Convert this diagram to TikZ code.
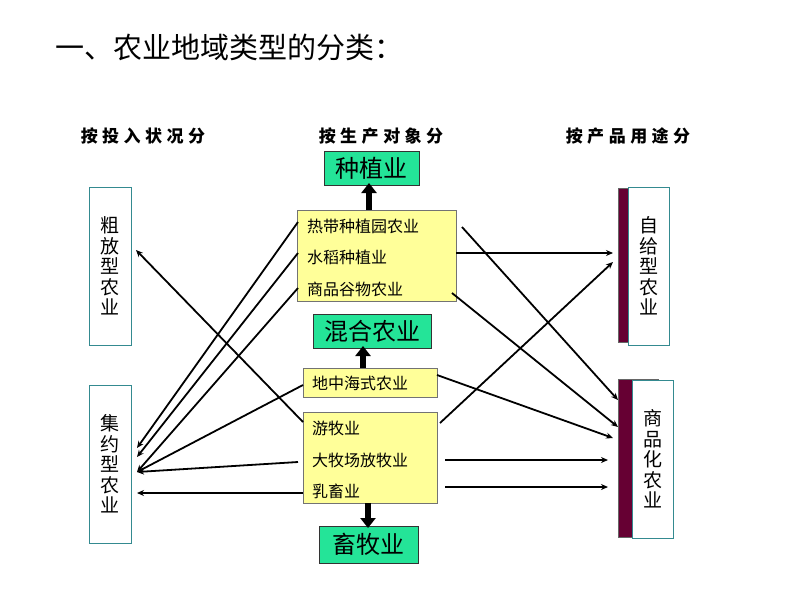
\documentclass[tikz,border=0pt]{standalone}
\usepackage{fontspec}
\setmainfont{Noto Sans CJK SC}
\usetikzlibrary{arrows.meta}
\definecolor{boxgreen}{RGB}{36,228,152}
\definecolor{boxyellow}{RGB}{255,255,153}
\definecolor{maroonc}{RGB}{102,0,51}
\definecolor{tealc}{RGB}{52,138,144}
\tikzset{
  every node/.style={inner sep=0pt, outer sep=0pt},
  greenbox/.style={draw=black!80, line width=0.8pt, fill=boxgreen, font=\fontsize{24}{24}\selectfont},
  yellowbox/.style={draw=black!55, line width=0.8pt, fill=boxyellow},
  ytext/.style={anchor=west, font=\fontsize{16}{16}\selectfont},
  vbox/.style={draw=tealc, line width=1pt, fill=white, minimum width=42pt, minimum height=158pt, align=center, font=\fontsize{19}{20.5}\selectfont},
  shadowbox/.style={fill=maroonc, draw=black!60, line width=0.5pt},
  hdr/.style={font=\fontsize{17}{17}\selectfont\bfseries},
  thinarrow/.style={line width=1.8pt, -{Stealth[length=7pt,width=6pt]}},
  thickarrow/.style={line width=6.5pt, -{Triangle[length=10pt,width=15pt]}}
}
\newcommand{\hsp}{\hspace{4.5pt}}
\begin{document}
\begin{tikzpicture}[x=1pt,y=-1pt]
\useasboundingbox (0,0) rectangle (800,600);
\fill[white] (0,0) rectangle (800,600);

% title
\node[anchor=west, font=\fontsize{29}{29}\selectfont] (title) at (55,47) {一、农业地域类型的分类：};

% headers
\node[hdr] (h1) at (143,136) {按\hsp 投\hsp 入\hsp 状\hsp 况\hsp 分};
\node[hdr] (h2) at (381,136) {按\hsp 生\hsp 产\hsp 对\hsp 象\hsp 分};
\node[hdr] (h3) at (628,136) {按\hsp 产\hsp 品\hsp 用\hsp 途\hsp 分};

% left boxes
\node[vbox] (cf) at (110,266) {粗\\放\\型\\农\\业};
\node[vbox] (jy) at (110,464) {集\\约\\型\\农\\业};

% right boxes with maroon shadows
\fill[shadowbox] (618,188) rectangle (658,342);
\node[vbox, minimum width=41pt] (zg) at (648.5,266) {自\\给\\型\\农\\业};
\fill[shadowbox] (618,379) rectangle (658,537);
\node[vbox, minimum width=41pt] (sp) at (652.5,459) {商\\品\\化\\农\\业};

% middle green boxes
\node[greenbox, minimum width=95pt, minimum height=34pt] (zz) at (371.5,168) {种植业};
\node[greenbox, minimum width=118pt, minimum height=34pt] (hh) at (372,331) {混合农业};
\node[greenbox, minimum width=99pt, minimum height=37pt] (xm) at (368.5,544.5) {畜牧业};

% yellow boxes
\node[yellowbox, minimum width=159pt, minimum height=91pt] (ya) at (376.5,255.5) {};
\node[yellowbox, minimum width=134pt, minimum height=29pt] (yb) at (370,382.5) {};
\node[yellowbox, minimum width=134pt, minimum height=91pt] (yc) at (370,457.5) {};

\node[ytext] (a1) at (307,226) {热带种植园农业};
\node[ytext] (a2) at (307,257) {水稻种植业};
\node[ytext] (a3) at (307,289) {商品谷物农业};
\node[ytext] (b1) at (312,383) {地中海式农业};
\node[ytext] (c1) at (312,428) {游牧业};
\node[ytext] (c2) at (312,460) {大牧场放牧业};
\node[ytext] (c3) at (312,491) {乳畜业};

% thick arrows
\draw[thickarrow] (369,210) -- (369,183);
\draw[thickarrow] (363,368) -- (363,346);
\draw[thickarrow] (368,503) -- (368,528);

% endpoint coordinates
\coordinate (La1) at (298,222);
\coordinate (La2) at (298,253);
\coordinate (La3) at (298,288);
\coordinate (Lb1) at (303,385);
\coordinate (Lc1) at (303,422);
\coordinate (Lc2) at (298,462);
\coordinate (Lc3) at (303,493);
\coordinate (jyA) at (137,448);
\coordinate (jyB) at (137,457);
\coordinate (jyC) at (137,472);
\coordinate (jyD) at (137,493);
\coordinate (cfA) at (136,250);

\coordinate (Ra1) at (462,227);
\coordinate (Ra2) at (456,253);
\coordinate (Ra3) at (452,293);
\coordinate (Rb1) at (437,375);
\coordinate (Rc1) at (440,423);
\coordinate (Rc2) at (445,460);
\coordinate (Rc3) at (445,487);
\coordinate (zgA) at (613,253);
\coordinate (zgB) at (613,262);
\coordinate (spA) at (618,400);
\coordinate (spB) at (618,427);
\coordinate (spC) at (613,438);
\coordinate (spD) at (608,460);
\coordinate (spE) at (608,487);

% left connectors
\draw[thinarrow] (La1) -- (jyA);
\draw[thinarrow] (La2) -- (jyB);
\draw[thinarrow] (La3) -- (jyC);
\draw[thinarrow] (Lb1) -- (jyC);
\draw[thinarrow] (Lc1) -- (cfA);
\draw[thinarrow] (Lc2) -- (jyC);
\draw[thinarrow] (Lc3) -- (jyD);

% right connectors
\draw[thinarrow] (Ra1) -- (spA);
\draw[thinarrow] (Ra2) -- (zgA);
\draw[thinarrow] (Ra3) -- (spB);
\draw[thinarrow] (Rb1) -- (spC);
\draw[thinarrow] (Rc1) -- (zgB);
\draw[thinarrow] (Rc2) -- (spD);
\draw[thinarrow] (Rc3) -- (spE);
\end{tikzpicture}
\end{document}
